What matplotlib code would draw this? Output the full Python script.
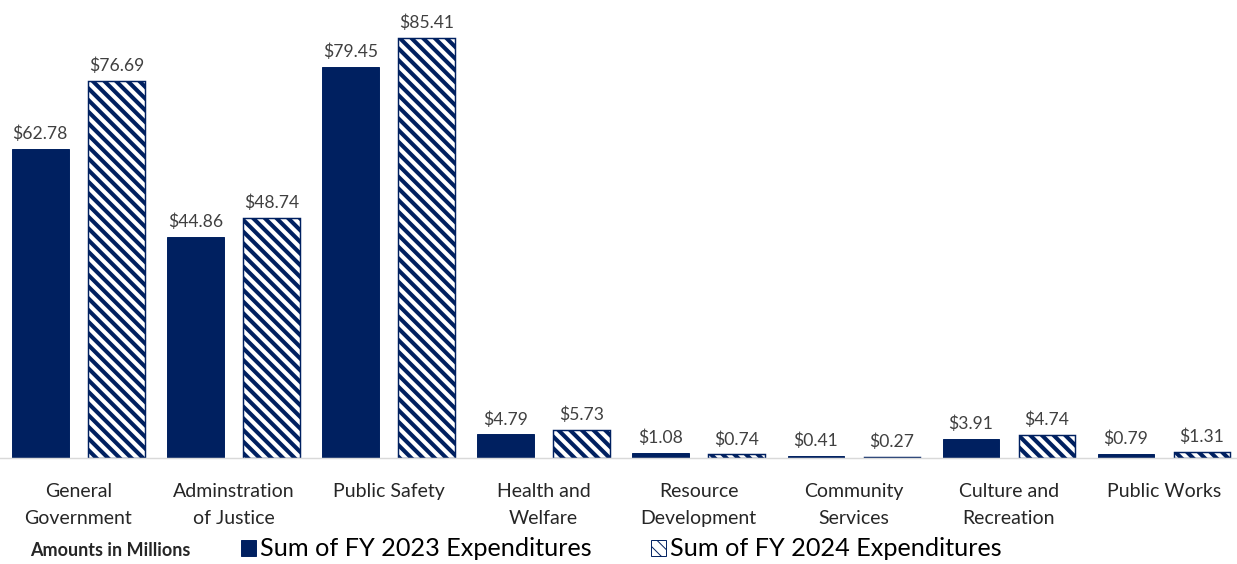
import matplotlib.pyplot as plt
import numpy as np
from matplotlib.patches import Patch

plt.rcParams['font.family'] = ['Lato', 'DejaVu Sans']

categories = ["General\nGovernment", "Adminstration\nof Justice", "Public Safety",
              "Health and\nWelfare", "Resource\nDevelopment", "Community\nServices",
              "Culture and\nRecreation", "Public Works"]
fy2023 = [62.78, 44.86, 79.45, 4.79, 1.08, 0.41, 3.91, 0.79]
fy2024 = [76.69, 48.74, 85.41, 5.73, 0.74, 0.27, 4.74, 1.31]

navy = '#002060'
x = np.arange(len(categories))
w = 0.365
off = 0.245

fig = plt.figure(figsize=(1237 / 70, 564 / 70), dpi=70)
ax = fig.add_axes([0.0, 0.188, 1.0, 0.812])

b1 = ax.bar(x - off, fy2023, w, color=navy, edgecolor=navy, linewidth=1)
b2 = ax.bar(x + off, fy2024, w, color='white', edgecolor=navy, hatch='\\\\', linewidth=1.5)
for r in b2:
    r.set_hatch_linewidth(4.2)

for bars, vals in ((b1, fy2023), (b2, fy2024)):
    for r, v in zip(bars, vals):
        ax.annotate("${:.2f}".format(v), (r.get_x() + r.get_width() / 2, r.get_height()),
                    xytext=(0, 7), textcoords='offset points', ha='center', va='bottom',
                    fontsize=18, color='#404040')

ax.set_xlim(-0.505, 7.47)
ax.set_ylim(0, 93.1)
ax.set_xticks(x)
ax.set_xticklabels(categories, fontsize=20, color='#262626', linespacing=1.7)
ax.tick_params(axis='x', length=0, pad=26)
ax.set_yticks([])
for s in ['top', 'left', 'right']:
    ax.spines[s].set_visible(False)
ax.spines['bottom'].set_color('#d9d9d9')
ax.spines['bottom'].set_linewidth(1.5)

h2 = Patch(facecolor='white', edgecolor=navy, hatch='\\\\')
h2.set_hatch_linewidth(3.0)
handles = [Patch(facecolor=navy, edgecolor=navy), h2]
fig.legend(handles, ["Sum of FY 2023 Expenditures", "Sum of FY 2024 Expenditures"],
           loc='center left', bbox_to_anchor=(241 / 1237, 1 - 549 / 564), ncol=2,
           frameon=False, fontsize=26, handlelength=0.6, handleheight=0.6,
           handletextpad=0.15, columnspacing=2.35, borderpad=0, borderaxespad=0)
fig.text(30 / 1237, 1 - 551 / 564, "Amounts in Millions", fontsize=18.5, fontweight='bold',
         color='#262626', va='center', ha='left')

fig.savefig("out.png", dpi=70)
